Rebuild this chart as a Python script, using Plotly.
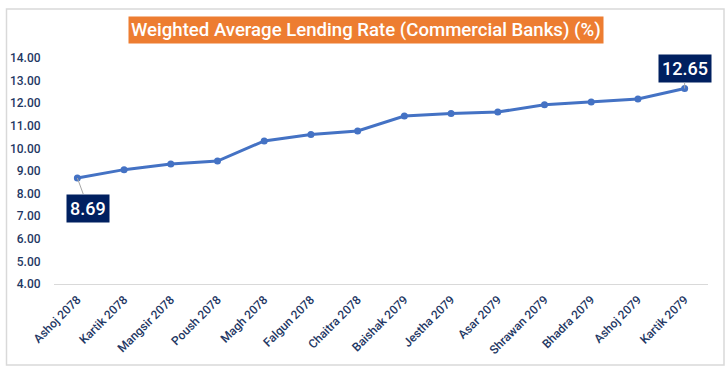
import plotly.graph_objects as go

months = ["Ashoj 2078", "Kartik 2078", "Mangsir 2078", "Poush 2078", "Magh 2078",
          "Falgun 2078", "Chaitra 2078", "Baishak 2079", "Jestha 2079", "Asar 2079",
          "Shrawan 2079", "Bhadra 2079", "Ashoj 2079", "Kartik 2079"]
rates = [8.69, 9.06, 9.31, 9.44, 10.33, 10.61, 10.77, 11.43, 11.54, 11.61,
         11.93, 12.05, 12.19, 12.65]
y_ticks = [4, 5, 6, 7, 8, 9, 10, 11, 12, 13, 14]
title_text = "Weighted Average Lending Rate (Commercial Banks) (%)"

W, H = 728, 371
ml, mr, mt, mb = 54, 20, 58, 87
pw, ph = W - ml - mr, H - mt - mb

def px_x(p):
    return (p - ml) / pw

def px_y(p):
    return (H - mb - p) / ph

navy = "#1F3864"
font = "Roboto"

fig = go.Figure()
fig.add_trace(go.Scatter(
    x=months, y=rates, mode="lines+markers",
    line=dict(color="#4472C4", width=3),
    marker=dict(color="#4472C4", size=7),
    hoverinfo="x+y",
))

fig.update_layout(
    width=W, height=H,
    margin=dict(l=ml, r=mr, t=mt, b=mb, autoexpand=False),
    paper_bgcolor="white", plot_bgcolor="white",
    showlegend=False,
    font=dict(family=font, color=navy, size=11),
    xaxis=dict(
        type="category", tickangle=-45, showgrid=False, automargin=False,
        range=[-0.5, len(months) - 0.5],
        showline=True, linecolor="#D9D9D9", linewidth=1,
        tickfont=dict(family=font, size=12, color=navy, weight=500),
        ticks="outside", ticklen=3, tickcolor="rgba(0,0,0,0)", zeroline=False,
    ),
    yaxis=dict(
        range=[y_ticks[0], y_ticks[-1]], tickvals=y_ticks, automargin=False,
        tickformat=".2f", showgrid=False, zeroline=False, showline=False,
        ticks="outside", ticklen=10, tickcolor="rgba(0,0,0,0)",
        tickfont=dict(family=font, size=12, color=navy, weight=500),
    ),
)

# outer border
fig.add_shape(type="rect", xref="paper", yref="paper",
              x0=px_x(6.5), x1=px_x(724), y0=px_y(365), y1=px_y(9),
              line=dict(color="#D9D9D9", width=1.5), fillcolor="rgba(0,0,0,0)",
              layer="below")

# title box
fig.add_annotation(
    xref="paper", yref="paper", x=px_x(365.5), y=px_y(30),
    text=title_text, showarrow=False,
    font=dict(family=font, size=18.6, color="white", weight=500),
    bgcolor="#ED7D31", borderpad=2,
    xanchor="center", yanchor="middle",
)

# data labels for first and last
fig.add_annotation(
    x=months[0], y=rates[0], text=f"{rates[0]:.2f}",
    showarrow=True, arrowhead=0, arrowwidth=1, arrowcolor="#A6A6A6",
    ax=11, ay=30,
    font=dict(family=font, size=18, color="white", weight=500),
    bgcolor="#002060", borderpad=3,
)
fig.add_annotation(
    x=months[-1], y=rates[-1], text=f"{rates[-1]:.2f}",
    showarrow=True, arrowhead=0, arrowwidth=1, arrowcolor="#A6A6A6",
    ax=0, ay=-20,
    font=dict(family=font, size=18, color="white", weight=500),
    bgcolor="#002060", borderpad=3,
)

fig.write_html("out.html", config={"displayModeBar": False},
               post_script="document.body.style.margin='0';")
